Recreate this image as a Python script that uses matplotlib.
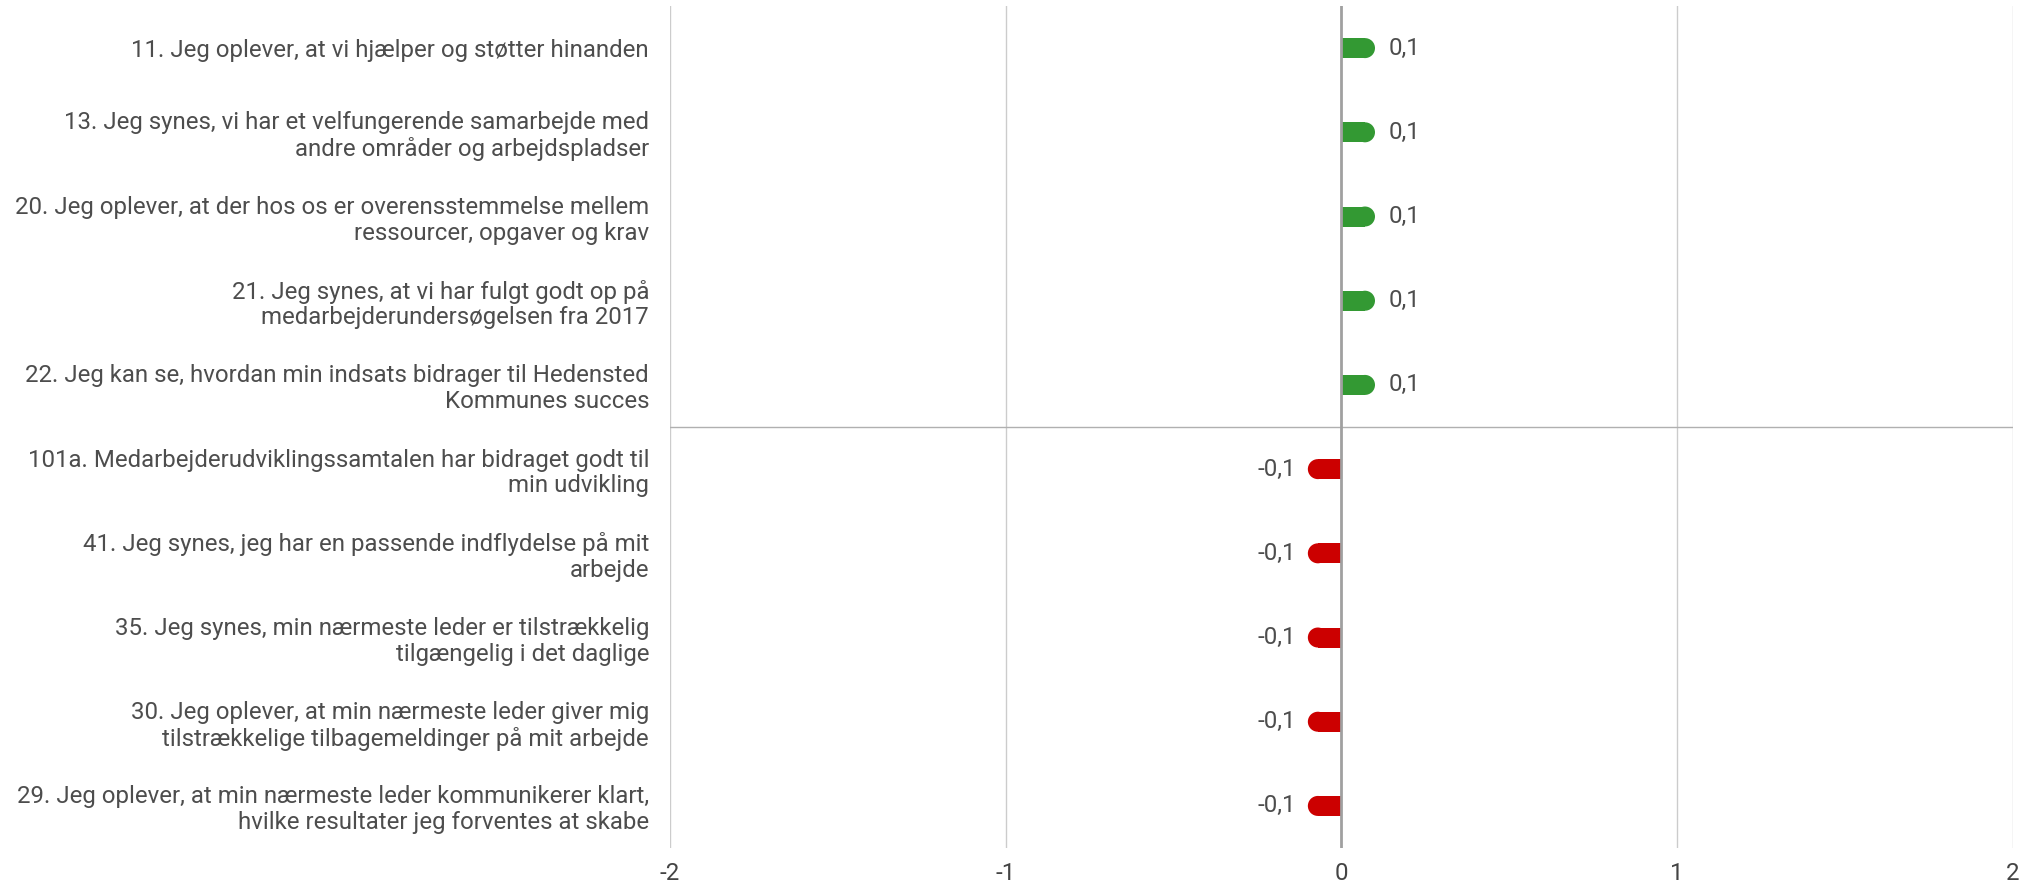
import matplotlib.pyplot as plt
from matplotlib.patches import Ellipse

plt.rcParams['font.family'] = ['Roboto', 'DejaVu Sans']

# questions, top to bottom
labels = [
    "11. Jeg oplever, at vi hjælper og støtter hinanden",
    "13. Jeg synes, vi har et velfungerende samarbejde med\nandre områder og arbejdspladser",
    "20. Jeg oplever, at der hos os er overensstemmelse mellem\nressourcer, opgaver og krav",
    "21. Jeg synes, at vi har fulgt godt op på\nmedarbejderundersøgelsen fra 2017",
    "22. Jeg kan se, hvordan min indsats bidrager til Hedensted\nKommunes succes",
    "101a. Medarbejderudviklingssamtalen har bidraget godt til\nmin udvikling",
    "41. Jeg synes, jeg har en passende indflydelse på mit\narbejde",
    "35. Jeg synes, min nærmeste leder er tilstrækkelig\ntilgængelig i det daglige",
    "30. Jeg oplever, at min nærmeste leder giver mig\ntilstrækkelige tilbagemeldinger på mit arbejde",
    "29. Jeg oplever, at min nærmeste leder kommunikerer klart,\nhvilke resultater jeg forventes at skabe",
]
values = [0.1, 0.1, 0.1, 0.1, 0.1, -0.1, -0.1, -0.1, -0.1, -0.1]
xticks = [-2, -1, 0, 1, 2]

green = '#339933'
red = '#cc0000'
text_col = '#4d4d4d'
fs = 17.25

fig = plt.figure(figsize=(20.32, 8.83), dpi=100)
ax = fig.add_axes([0.3297, 0.0396, 0.6609, 0.9536])

ax.set_xlim(-2, 2)
ax.set_ylim(len(labels) - 0.5, -0.5)

# pixel -> data conversion for the round caps
ax_w_px = fig.get_figwidth() * fig.dpi * 0.6609
ax_h_px = fig.get_figheight() * fig.dpi * 0.9536
px_x = 4.0 / ax_w_px
px_y = len(labels) / ax_h_px
bar_h = 20 * px_y
r = 10 * px_x

for i, v in enumerate(values):
    c = green if v > 0 else red
    s = 1 if v > 0 else -1
    ax.barh(i, v - s * r, height=bar_h, color=c, lw=0, zorder=3)
    ax.add_patch(Ellipse((v - s * r, i), 2 * r, bar_h, facecolor=c, lw=0, zorder=3))
    lbl = f"{v:.1f}".replace('.', ',')
    if v > 0:
        ax.text(v + 14 * px_x, i, lbl, ha='left', va='center', fontsize=fs, color=text_col)
    else:
        ax.text(v - 12 * px_x, i, lbl, ha='right', va='center', fontsize=fs, color=text_col)

for t in xticks:
    if t == 0:
        ax.axvline(t, color='#a0a0a0', lw=2, zorder=4)
    else:
        ax.axvline(t, color='#cccccc', lw=1, zorder=1)

# separator between positive and negative
n_pos = sum(1 for v in values if v > 0)
ax.axhline(n_pos - 0.5, color='#b0b0b0', lw=1, zorder=2)

ax.set_xticks(xticks)
ax.set_xticklabels([str(t) for t in xticks], fontsize=fs, color='#444444')
ax.set_yticks(range(len(labels)))
ax.set_yticklabels(labels, fontsize=fs, color=text_col, linespacing=1.15)
ax.tick_params(axis='both', length=0)
ax.tick_params(axis='x', pad=10)
ax.tick_params(axis='y', pad=15)
for sp in ax.spines.values():
    sp.set_visible(False)

fig.savefig('out.png', dpi=100, facecolor='white')
